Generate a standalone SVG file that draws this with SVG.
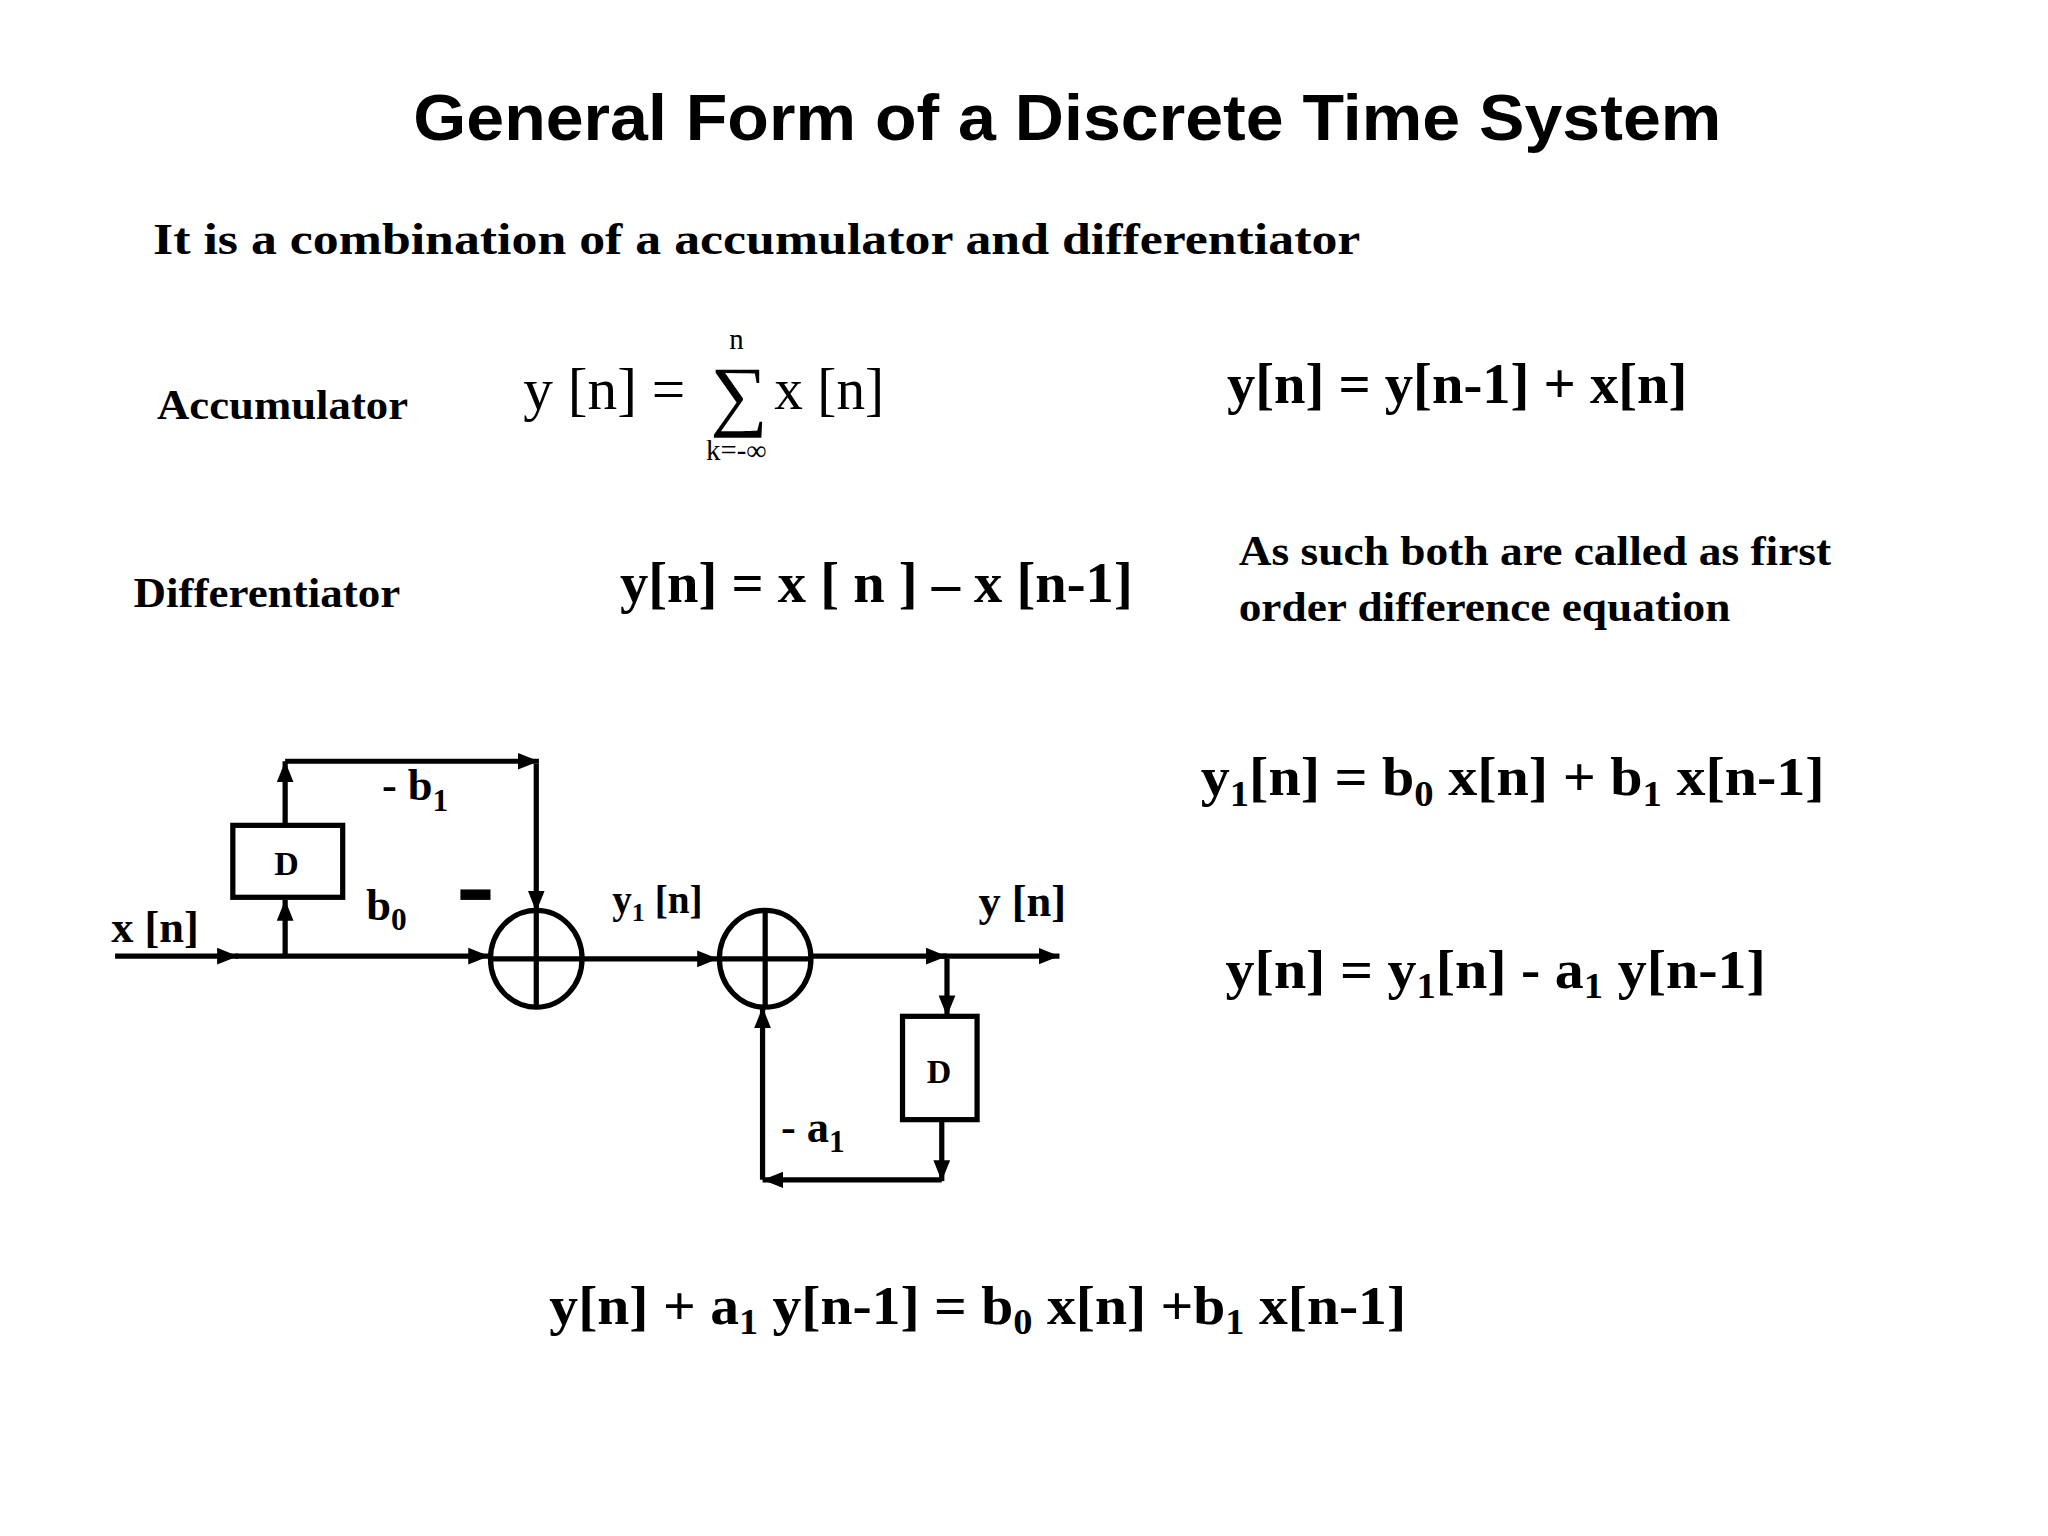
<svg xmlns="http://www.w3.org/2000/svg" width="2048" height="1536" viewBox="0 0 2048 1536">
<defs>
<style>
.t{font-family:"Liberation Serif",serif;font-weight:bold;fill:#000}
.r{font-family:"Liberation Serif",serif;fill:#000}
.l{stroke:#000;stroke-width:4;fill:none}
.b{stroke:#000;stroke-width:4;fill:#fff}
</style>
<marker id="a" viewBox="0 0 10 10" refX="10" refY="5" markerWidth="4" markerHeight="4" orient="auto" markerUnits="strokeWidth"><path d="M0,1 L10,5 L0,9 z" fill="#000"/></marker>
</defs>
<rect width="2048" height="1536" fill="#fff"/>
<g transform="scale(1.308)">
<text x="316" y="107" textLength="1000" lengthAdjust="spacingAndGlyphs" style="font-family:'Liberation Sans',sans-serif;font-weight:bold;font-size:50px">General Form of a Discrete Time System</text>
<text class="t" x="117" y="194" font-size="34" textLength="923" lengthAdjust="spacingAndGlyphs">It is a combination of a accumulator  and differentiator</text>
<text class="t" x="120" y="320" font-size="32" textLength="192" lengthAdjust="spacingAndGlyphs">Accumulator</text>
<text class="r" x="400" y="313" font-size="46" textLength="124" lengthAdjust="spacingAndGlyphs">y [n] =</text>
<text class="r" x="543" y="322" font-size="60" textLength="44" lengthAdjust="spacingAndGlyphs">∑</text>
<text class="r" x="563" y="267" font-size="22" text-anchor="middle">n</text>
<text class="r" x="563" y="352" font-size="22" text-anchor="middle">k=-∞</text>
<text class="r" x="592" y="313" font-size="46" textLength="84" lengthAdjust="spacingAndGlyphs">x [n]</text>
<text class="t" x="938" y="308" font-size="44" textLength="352" lengthAdjust="spacingAndGlyphs">y[n] = y[n-1] + x[n]</text>
<text class="t" x="102" y="464" font-size="32" textLength="204" lengthAdjust="spacingAndGlyphs">Differentiator</text>
<text class="t" x="474" y="460" font-size="44" textLength="392" lengthAdjust="spacingAndGlyphs">y[n] = x [ n ] – x [n-1]</text>
<text class="t" x="947" y="432" font-size="33" textLength="453" lengthAdjust="spacingAndGlyphs">As such both are called as first</text>
<text class="t" x="947" y="475" font-size="33" textLength="376" lengthAdjust="spacingAndGlyphs">order difference equation</text>
<text class="t" x="918" y="608" font-size="42" textLength="477" lengthAdjust="spacingAndGlyphs">y<tspan font-size="28" dy="8">1</tspan><tspan dy="-8">[n]  = b</tspan><tspan font-size="28" dy="8">0</tspan><tspan dy="-8"> x[n] + b</tspan><tspan font-size="28" dy="8">1</tspan><tspan dy="-8"> x[n-1]</tspan></text>
<text class="t" x="937" y="755" font-size="42" textLength="413" lengthAdjust="spacingAndGlyphs">y[n]  = y<tspan font-size="28" dy="8">1</tspan><tspan dy="-8">[n] - a</tspan><tspan font-size="28" dy="8">1</tspan><tspan dy="-8"> y[n-1]</tspan></text>
<text class="t" x="420" y="1012" font-size="42" textLength="655" lengthAdjust="spacingAndGlyphs">y[n] + a<tspan font-size="28" dy="8">1</tspan><tspan dy="-8"> y[n-1] =  b</tspan><tspan font-size="28" dy="8">0</tspan><tspan dy="-8"> x[n] +b</tspan><tspan font-size="28" dy="8">1</tspan><tspan dy="-8"> x[n-1]</tspan></text>

<g id="connectors">
<path class="l" d="M88,731 H182" marker-end="url(#a)"/>
<path class="l" d="M180,731 H374" marker-end="url(#a)"/>
<path class="l" d="M218,731 V688" marker-end="url(#a)"/>
<path class="l" d="M218,631 V582" marker-end="url(#a)"/>
<path class="l" d="M218,582 H412" marker-end="url(#a)"/>
<path class="l" d="M410,584 V697" marker-end="url(#a)"/>
<path class="l" d="M445,733 H549" marker-end="url(#a)"/>
<path class="l" d="M620,731 H724" marker-end="url(#a)"/>
<path class="l" d="M720,731 H810" marker-end="url(#a)"/>
<path class="l" d="M724,733 V777" marker-end="url(#a)"/>
<path class="l" d="M720,856 V903" marker-end="url(#a)"/>
<path class="l" d="M720,902 H583" marker-end="url(#a)"/>
<path class="l" d="M583,902 V770" marker-end="url(#a)"/>
</g>
<g id="sum1"><ellipse class="b" cx="410" cy="733" rx="35" ry="37"/><path class="l" d="M375,733 H445 M410,696 V770"/></g>
<g id="sum2"><ellipse class="b" cx="585" cy="733" rx="35" ry="37"/><path class="l" d="M550,733 H620 M585,696 V770"/></g>
<g id="d1"><rect class="b" x="178" y="631" width="84" height="55"/><text class="t" x="219" y="669" font-size="26" text-anchor="middle">D</text></g>
<g id="d2"><rect class="b" x="690" y="777" width="57" height="79"/><text class="t" x="718" y="828" font-size="26" text-anchor="middle">D</text></g>
<text class="t" x="85" y="720" font-size="34">x [n]</text>
<text class="t" x="292" y="612" font-size="34">- b<tspan font-size="24" dy="8">1</tspan></text>
<text class="t" x="280" y="703" font-size="34">b<tspan font-size="24" dy="8">0</tspan></text>
<rect x="352" y="680" width="23" height="8" fill="#000"/>
<text class="t" x="468" y="698" font-size="30">y<tspan font-size="20" dy="6">1</tspan><tspan dy="-6"> [n]</tspan></text>
<text class="t" x="748" y="700" font-size="34">y [n]</text>
<text class="t" x="597" y="873" font-size="34">- a<tspan font-size="24" dy="8">1</tspan></text>
</g>
</svg>
